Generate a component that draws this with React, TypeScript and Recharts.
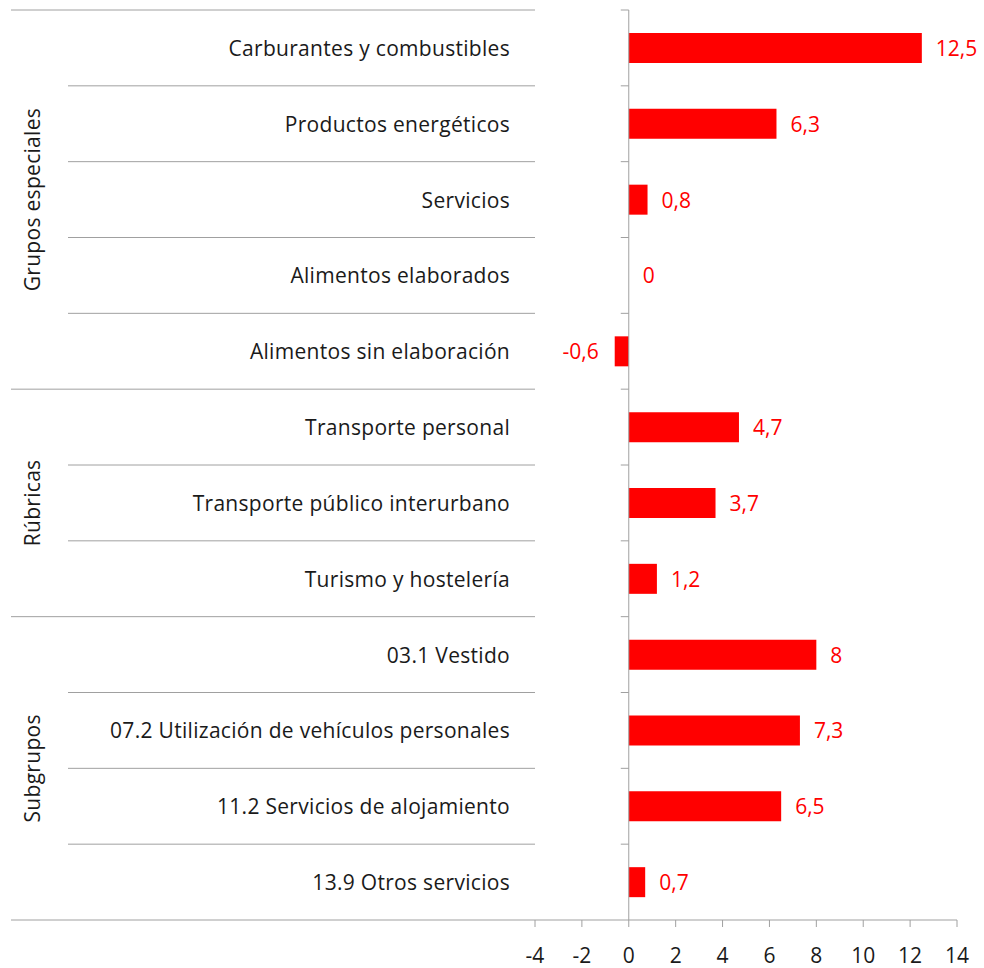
import React from 'react';
import { BarChart, Bar, XAxis, YAxis, ReferenceLine, ReferenceDot } from 'recharts';

// chart data
const categories = [
  'Carburantes y combustibles',
  'Productos energéticos',
  'Servicios',
  'Alimentos elaborados',
  'Alimentos sin elaboración',
  'Transporte personal',
  'Transporte público interurbano',
  'Turismo y hostelería',
  '03.1 Vestido',
  '07.2 Utilización de vehículos personales',
  '11.2 Servicios de alojamiento',
  '13.9 Otros servicios',
];
const values = [12.5, 6.3, 0.8, 0, -0.6, 4.7, 3.7, 1.2, 8, 7.3, 6.5, 0.7];
const groupNames = ['Grupos especiales', 'Rúbricas', 'Subgrupos'];
const groupSizes = [5, 3, 4];
const xTicks = [-4, -2, 0, 2, 4, 6, 8, 10, 12, 14];

const data = categories.map((name, i) => ({ name, value: values[i] }));

// layout
const W = 984;
const H = 968;
const PLOT_LEFT = 535;
const PLOT_RIGHT = 957;
const PLOT_TOP = 10;
const PLOT_BOTTOM = 920;
const BAND = (PLOT_BOTTOM - PLOT_TOP) / categories.length;
const X_MIN = xTicks[0];
const X_MAX = xTicks[xTicks.length - 1];
const X_ZERO = PLOT_LEFT + ((0 - X_MIN) / (X_MAX - X_MIN)) * (PLOT_RIGHT - PLOT_LEFT);
const LINE = '#a0a0a0';
const TEXT = '#1a1a1a';
const FONT = '"Open Sans", Lato, sans-serif';

const groupStarts: number[] = [];
groupSizes.reduce((acc, s) => {
  groupStarts.push(acc);
  return acc + s;
}, 0);

// category label + separator lines + group title (rotated)
const CategoryTick = (props: any) => {
  const { x, y, index, payload } = props;
  const top = y - BAND / 2;
  const g = groupStarts.indexOf(index);
  const isLast = index === categories.length - 1;
  const gy = g >= 0 ? top + (groupSizes[g] * BAND) / 2 : 0;
  return (
    <g>
      <line x1={g >= 0 ? 11 : 68} x2={x} y1={top} y2={top} stroke={LINE} strokeWidth={1} />
      <line x1={X_ZERO - 8} x2={X_ZERO} y1={top} y2={top} stroke={LINE} strokeWidth={1} />
      {isLast && <line x1={11} x2={x} y1={top + BAND} y2={top + BAND} stroke={LINE} strokeWidth={1} />}
      <text x={x - 25} y={y} textAnchor="end" dominantBaseline="central" fontSize={21} letterSpacing={0.3} fill={TEXT} fontFamily={FONT}>
        {payload.value}
      </text>
      {g >= 0 && (
        <text
          x={32}
          y={gy}
          transform={`rotate(-90, 32, ${gy})`}
          textAnchor="middle"
          dominantBaseline="central"
          fontSize={21}
          letterSpacing={0.3}
          fill={TEXT}
          fontFamily={FONT}
        >
          {groupNames[g]}
        </text>
      )}
    </g>
  );
};

const ValueLabel = (props: any) => {
  const { viewBox, v } = props;
  const cx = viewBox.x + viewBox.width / 2;
  const cy = viewBox.y + viewBox.height / 2;
  const neg = v < 0;
  return (
    <text
      x={neg ? cx - 16 : cx + 14}
      y={cy}
      textAnchor={neg ? 'end' : 'start'}
      dominantBaseline="central"
      fontSize={21}
      fill="#ff0000"
      fontFamily={FONT}
    >
      {String(v).replace('.', ',')}
    </text>
  );
};

export default function App() {
  return (
    <div style={{ position: 'absolute', left: 0, top: 0, background: '#fff' }}>
      <BarChart
        width={W}
        height={H}
        data={data}
        layout="vertical"
        margin={{ top: PLOT_TOP, right: W - PLOT_RIGHT, left: 0, bottom: 5 }}
      >
        <XAxis
          type="number"
          domain={[X_MIN, X_MAX]}
          ticks={xTicks}
          height={H - PLOT_BOTTOM - 5}
          axisLine={{ stroke: LINE }}
          tickLine={{ stroke: LINE }}
          tickSize={7}
          tickMargin={21}
          tick={{ fontSize: 21, fill: TEXT, fontFamily: FONT }}
          allowDataOverflow
        />
        <YAxis
          type="category"
          dataKey="name"
          width={PLOT_LEFT}
          axisLine={false}
          tickLine={false}
          tickSize={0}
          tickMargin={0}
          interval={0}
          tick={<CategoryTick />}
        />
        <ReferenceLine x={0} stroke={LINE} strokeWidth={1} />
        <Bar dataKey="value" fill="#ff0000" barSize={30} isAnimationActive={false} />
        {data.map((d) => (
          <ReferenceDot
            key={d.name}
            x={d.value}
            y={d.name}
            r={0}
            fill="none"
            stroke="none"
            label={<ValueLabel v={d.value} />}
          />
        ))}
      </BarChart>
    </div>
  );
}
